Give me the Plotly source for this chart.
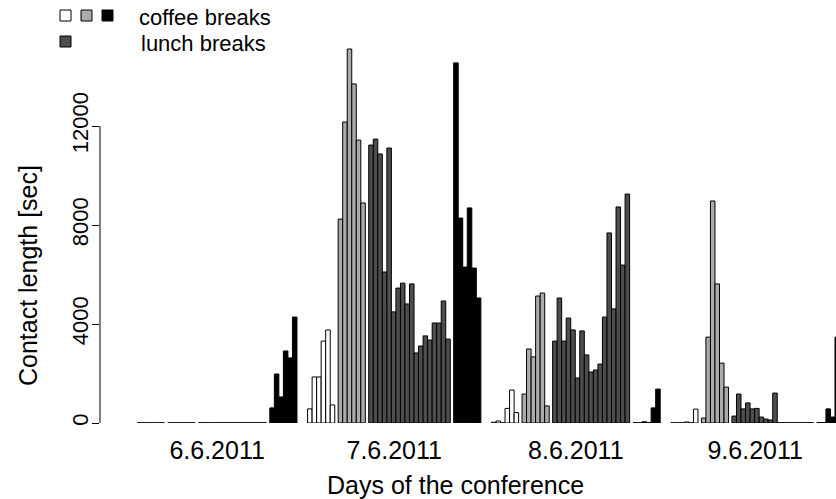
import plotly.graph_objects as go

# ---------------- data (seconds) ----------------
days = ["6.6.2011", "7.6.2011", "8.6.2011", "9.6.2011"]

# morning coffee break (white)
coffee_1 = [
    [10, 10, 10, 10, 10, 10],
    [570, 1860, 1860, 3310, 3760, 730],
    [30, 80, 10, 590, 1330, 420],
    [10, 10, 10, 40, 10, 560],
]
# second coffee break (light gray)
coffee_2 = [
    [10, 10, 10, 10, 10, 10],
    [8240, 12160, 15110, 13700, 11430, 8890],
    [1170, 2990, 2670, 5130, 5250, 690],
    [200, 3470, 8970, 5620, 2420, 1450],
]
# lunch break (dark gray)
lunch = [
    [10] * 15,
    [11230, 11470, 10870, 6100, 11110, 4490, 5450, 5650, 4810, 5620,
     2830, 3110, 3520, 3350, 4040, 4040, 4930, 3390],
    [3310, 5050, 3310, 4240, 3760, 1820, 3720, 2750, 2060, 2140,
     2380, 4280, 7680, 4610, 8730, 6380, 9250],
    [280, 1170, 570, 810, 570, 590, 240, 160, 120, 1210,
     10, 10, 10, 10, 10, 10, 10, 10],
]
# afternoon coffee break (black)
coffee_3 = [
    [610, 1980, 1050, 2910, 2630, 4280],
    [14550, 8280, 6300, 8690, 6260, 5050],
    [10, 10, 50, 20, 610, 1370],
    [20, 20, 570, 240, 3470],
]

y_ticks = [0, 4000, 8000, 12000]

# ---------------- layout constants ----------------
W, H = 836, 499
ML, MB = 100, 76
PX_PER_UNIT = 4.53          # bar width in px
ORIGIN_PX = 137.3           # left edge of first bar
GROUP_GAP = 0.75
DAY_GAP = 2.34
PX_PER_SEC = 24.75 / 1000.0
PLOT_H = H - MB             # 423

groups = [("#ffffff", coffee_1), ("#ababab", coffee_2),
          ("#4d4d4d", lunch), ("#000000", coffee_3)]

# compute bar positions
traces = {c: ([], []) for c, _ in groups}
day_centers = []
u = 0.0
for d in range(len(days)):
    start = u
    for gi, (col, data) in enumerate(groups):
        vals = data[d]
        for v in vals:
            traces[col][0].append(u + 0.5)
            traces[col][1].append(v)
            u += 1
        if gi < len(groups) - 1:
            u += GROUP_GAP
    day_centers.append((start + u) / 2)
    u += DAY_GAP

fig = go.Figure()
for col, _ in groups:
    xs, ys = traces[col]
    fig.add_trace(go.Bar(
        x=xs, y=ys, width=1.0,
        marker=dict(color=col, line=dict(color="black", width=1)),
        showlegend=False, hoverinfo="skip",
    ))

x_lo = (ML - ORIGIN_PX) / PX_PER_UNIT
x_hi = (W - ORIGIN_PX) / PX_PER_UNIT
y_hi = PLOT_H / PX_PER_SEC

FONT = "Liberation Sans, Arial, Helvetica, sans-serif"

fig.update_layout(
    width=W, height=H,
    margin=dict(l=ML, r=0, t=0, b=MB),
    paper_bgcolor="white", plot_bgcolor="white",
    barmode="overlay",
    font=dict(family=FONT, color="black"),
    xaxis=dict(
        range=[x_lo, x_hi], showgrid=False, zeroline=False, showline=False,
        tickvals=day_centers, ticktext=days,
        ticks="outside", ticklen=5, tickcolor="rgba(0,0,0,0)",
        tickfont=dict(size=25, family=FONT),
    ),
    yaxis=dict(
        range=[0, y_hi], showgrid=False, zeroline=False, showline=False,
        tickvals=y_ticks, ticktext=[str(t) for t in y_ticks],
        ticks="outside", ticklen=7, tickwidth=1, tickcolor="black",
        tickangle=-90, ticklabelstandoff=-5,
        tickfont=dict(size=22, family=FONT),
    ),
)

def px2x(px):
    return (px - ML) / (W - ML)

def px2y(py):
    return (PLOT_H - py) / PLOT_H

# y axis line from 0 to 12000
fig.add_shape(type="line", xref="paper", yref="y", x0=0, x1=0,
              y0=y_ticks[0], y1=y_ticks[-1], line=dict(color="black", width=1))

# legend squares
SQ = 11
legend_boxes = [(60, 10, "#ffffff"), (81, 10, "#ababab"), (102, 10, "#000000"),
                (60, 36, "#4d4d4d")]
for x0, y0, col in legend_boxes:
    fig.add_shape(type="rect", xref="paper", yref="paper",
                  x0=px2x(x0), x1=px2x(x0 + SQ), y0=px2y(y0 + SQ), y1=px2y(y0),
                  fillcolor=col, line=dict(color="black", width=1))

annotations = [
    dict(text="coffee breaks", x=px2x(137), y=px2y(18), xanchor="left", yanchor="middle",
         font=dict(size=22)),
    dict(text="lunch breaks", x=px2x(139), y=px2y(43), xanchor="left", yanchor="middle",
         font=dict(size=22)),
    dict(text="Days of the conference", x=px2x(455), y=px2y(485), xanchor="center",
         yanchor="middle", font=dict(size=25)),
    dict(text="Contact length [sec]", x=px2x(28), y=px2y(276), xanchor="center",
         yanchor="middle", textangle=-90, font=dict(size=25)),
]
for a in annotations:
    a.update(xref="paper", yref="paper", showarrow=False)
    a["font"]["family"] = FONT
    a["font"]["color"] = "black"
fig.update_layout(annotations=annotations)

fig.write_html("out.html", config={"displayModeBar": False},
               post_script="document.body.style.margin='0';")
